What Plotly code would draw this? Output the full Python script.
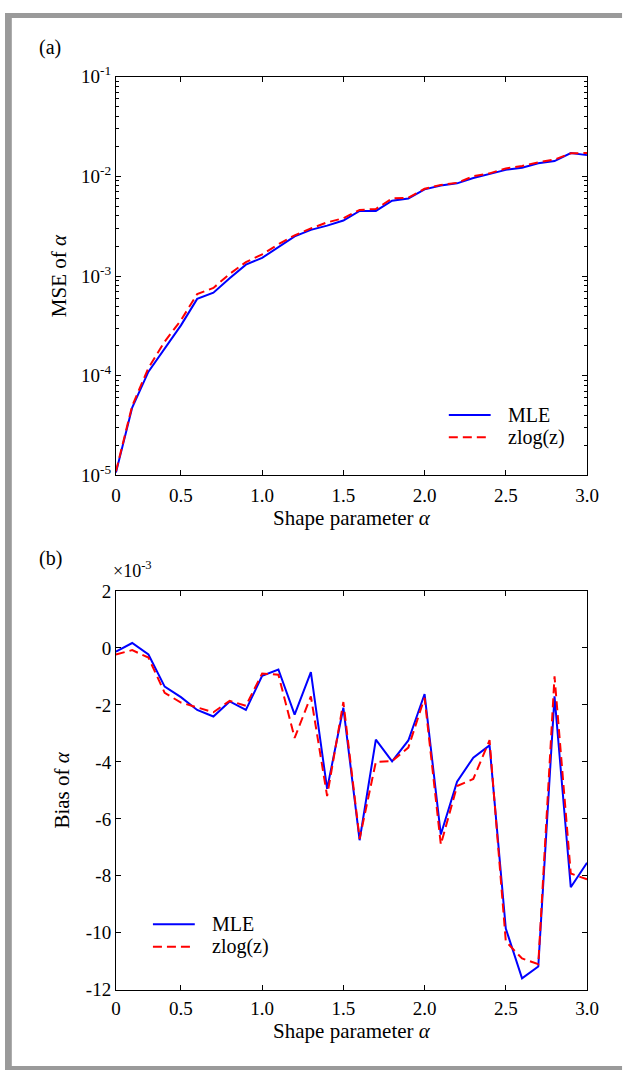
import plotly.graph_objects as go

# ---------------- data ----------------
alpha = [0.1, 0.2, 0.3, 0.4, 0.5, 0.6, 0.7, 0.8, 0.9, 1.0,
         1.1, 1.2, 1.3, 1.4, 1.5, 1.6, 1.7, 1.8, 1.9, 2.0,
         2.1, 2.2, 2.3, 2.4, 2.5, 2.6, 2.7, 2.8, 2.9, 3.0]

mse_mle = [1.07e-5, 4.8e-5, 1.1e-4, 1.9e-4, 3.2e-4, 5.9e-4, 6.8e-4, 9.5e-4, 1.3e-3, 1.52e-3,
           1.95e-3, 2.5e-3, 2.9e-3, 3.2e-3, 3.6e-3, 4.5e-3, 4.5e-3, 5.7e-3, 6.0e-3, 7.4e-3,
           8.1e-3, 8.5e-3, 9.6e-3, 1.05e-2, 1.16e-2, 1.22e-2, 1.35e-2, 1.42e-2, 1.71e-2, 1.63e-2]
mse_zlog = [1.1e-5, 5.0e-5, 1.2e-4, 2.2e-4, 3.6e-4, 6.6e-4, 7.6e-4, 1.05e-3, 1.38e-3, 1.65e-3,
            2.08e-3, 2.56e-3, 3.0e-3, 3.45e-3, 3.8e-3, 4.6e-3, 4.7e-3, 6.0e-3, 6.1e-3, 7.5e-3,
            8.2e-3, 8.6e-3, 1.0e-2, 1.07e-2, 1.2e-2, 1.27e-2, 1.38e-2, 1.47e-2, 1.7e-2, 1.71e-2]

# bias in units of 1e-3
bias_mle = [-0.13, 0.17, -0.23, -1.36, -1.73, -2.18, -2.41, -1.88, -2.18, -0.98,
            -0.76, -2.34, -0.85, -4.95, -2.1, -6.75, -3.22, -3.98, -3.25, -1.62,
            -6.55, -4.7, -3.85, -3.42, -9.85, -11.6, -11.18, -1.7, -8.4, -7.54]
bias_zlog = [-0.23, -0.08, -0.34, -1.58, -1.92, -2.09, -2.26, -1.86, -2.03, -0.9,
             -0.94, -3.16, -1.7, -5.2, -1.9, -6.7, -4.0, -3.97, -3.5, -1.75,
             -6.9, -4.85, -4.6, -3.24, -10.3, -10.9, -11.1, -1.0, -7.92, -8.12]

x_tickvals = [0.1, 0.5, 1.0, 1.5, 2.0, 2.5, 3.0]
x_ticktext = ["0", "0.5", "1.0", "1.5", "2.0", "2.5", "3.0"]
mse_tickvals = [1e-5, 1e-4, 1e-3, 1e-2, 1e-1]
mse_ticktext = ["10<sup>-5</sup>", "10<sup>-4</sup>", "10<sup>-3</sup>", "10<sup>-2</sup>", "10<sup>-1</sup>"]
bias_tickvals = [2, 0, -2, -4, -6, -8, -10, -12]
bias_ticktext = ["2", "0", "-2", "-4", "-6", "-8", "-10", "-12"]
series_names = ["MLE", "zlog(z)"]

# ---------------- layout geometry (pixels) ----------------
W, H = 636, 1081
FONT = "Liberation Serif, Times New Roman, serif"
BLUE = "#0000ff"
RED = "#ff0000"
DASH = "9px,5px"


def px_x(p):
    return p / W


def px_y(p):
    return 1 - p / H


fig = go.Figure()

fig.add_trace(go.Scatter(x=alpha, y=mse_mle, mode="lines", name=series_names[0],
                         line=dict(color=BLUE, width=2), xaxis="x", yaxis="y"))
fig.add_trace(go.Scatter(x=alpha, y=mse_zlog, mode="lines", name=series_names[1],
                         line=dict(color=RED, width=2, dash=DASH), xaxis="x", yaxis="y"))
fig.add_trace(go.Scatter(x=alpha, y=bias_mle, mode="lines", name=series_names[0],
                         line=dict(color=BLUE, width=2), xaxis="x2", yaxis="y2"))
fig.add_trace(go.Scatter(x=alpha, y=bias_zlog, mode="lines", name=series_names[1],
                         line=dict(color=RED, width=2, dash=DASH), xaxis="x2", yaxis="y2"))

axis_common = dict(showline=True, linecolor="black", linewidth=1, mirror="ticks",
                   ticks="inside", ticklen=5, tickcolor="black", showgrid=False, zeroline=False,
                   tickfont=dict(family=FONT, size=19, color="black"))

xdom = [px_x(114), px_x(598)]
TITLE_FONT = dict(family=FONT, size=21, color="black")

fig.update_layout(
    width=W, height=H,
    margin=dict(l=0, r=0, t=0, b=0),
    paper_bgcolor="white", plot_bgcolor="white",
    font=dict(family=FONT, color="black", size=19),
    showlegend=False,
    xaxis=dict(domain=xdom, range=[0.1, 3.0], tickvals=x_tickvals, ticktext=x_ticktext,
               anchor="y", ticklabelstandoff=3,
               title=dict(text="Shape parameter <i>α</i>", font=TITLE_FONT, standoff=3),
               **axis_common),
    yaxis=dict(domain=[px_y(473), px_y(65)], type="log", range=[-5, -1],
               tickvals=mse_tickvals, ticktext=mse_ticktext, anchor="x",
               minor=dict(ticks="inside", ticklen=3, tickcolor="black", dtick="D1", showgrid=False),
               title=dict(text="MSE of <i>α</i>", font=TITLE_FONT, standoff=8),
               **axis_common),
    xaxis2=dict(domain=xdom, range=[0.1, 3.0], tickvals=x_tickvals, ticktext=x_ticktext,
                anchor="y2", ticklabelstandoff=1,
                title=dict(text="Shape parameter <i>α</i>", font=TITLE_FONT, standoff=3),
                **axis_common),
    yaxis2=dict(domain=[px_y(999), px_y(591)], range=[-12, 2],
                tickvals=bias_tickvals, ticktext=bias_ticktext, anchor="x2",
                title=dict(text="Bias of <i>α</i>", font=TITLE_FONT, standoff=10),
                **axis_common),
)

# manual legends (sample line + label) for both panels
LEG_FONT = dict(family=FONT, size=20, color="black")
for (lx0, lx1, tx, ys) in [(456, 499, 516, (411, 434)), (152, 195, 212, (932, 955))]:
    for i, name in enumerate(series_names):
        color = BLUE if i == 0 else RED
        dash = "solid" if i == 0 else DASH
        fig.add_shape(type="line", xref="paper", yref="paper",
                      x0=px_x(lx0), x1=px_x(lx1), y0=px_y(ys[i]), y1=px_y(ys[i]),
                      line=dict(color=color, width=2, dash=dash))
        fig.add_annotation(text=name, x=px_x(tx), y=px_y(ys[i]), xref="paper", yref="paper",
                           xanchor="left", yanchor="middle", showarrow=False, font=LEG_FONT,
                           borderpad=0)

# panel labels and exponent
fig.add_annotation(text="(a)", x=px_x(33), y=px_y(35), xref="paper", yref="paper",
                   xanchor="left", yanchor="middle", showarrow=False,
                   font=dict(family=FONT, size=20))
fig.add_annotation(text="(b)", x=px_x(33), y=px_y(558), xref="paper", yref="paper",
                   xanchor="left", yanchor="middle", showarrow=False,
                   font=dict(family=FONT, size=20))
fig.add_annotation(text="×10<sup>-3</sup>", x=px_x(109), y=px_y(569), xref="paper", yref="paper",
                   xanchor="left", yanchor="middle", showarrow=False,
                   font=dict(family=FONT, size=18))

# grey frame of the original figure (left, top and bottom edges)
FRAME = "#9a9a9a"
fig.add_shape(type="rect", xref="paper", yref="paper", x0=0, x1=px_x(7), y0=px_y(1077), y1=px_y(5),
              fillcolor=FRAME, line_width=0, layer="above")
fig.add_shape(type="rect", xref="paper", yref="paper", x0=0, x1=px_x(634), y0=px_y(5), y1=1,
              fillcolor=FRAME, line_width=0, layer="above")
fig.add_shape(type="rect", xref="paper", yref="paper", x0=0, x1=px_x(634), y0=0, y1=px_y(1077),
              fillcolor=FRAME, line_width=0, layer="above")

fig.write_html("out.html")
